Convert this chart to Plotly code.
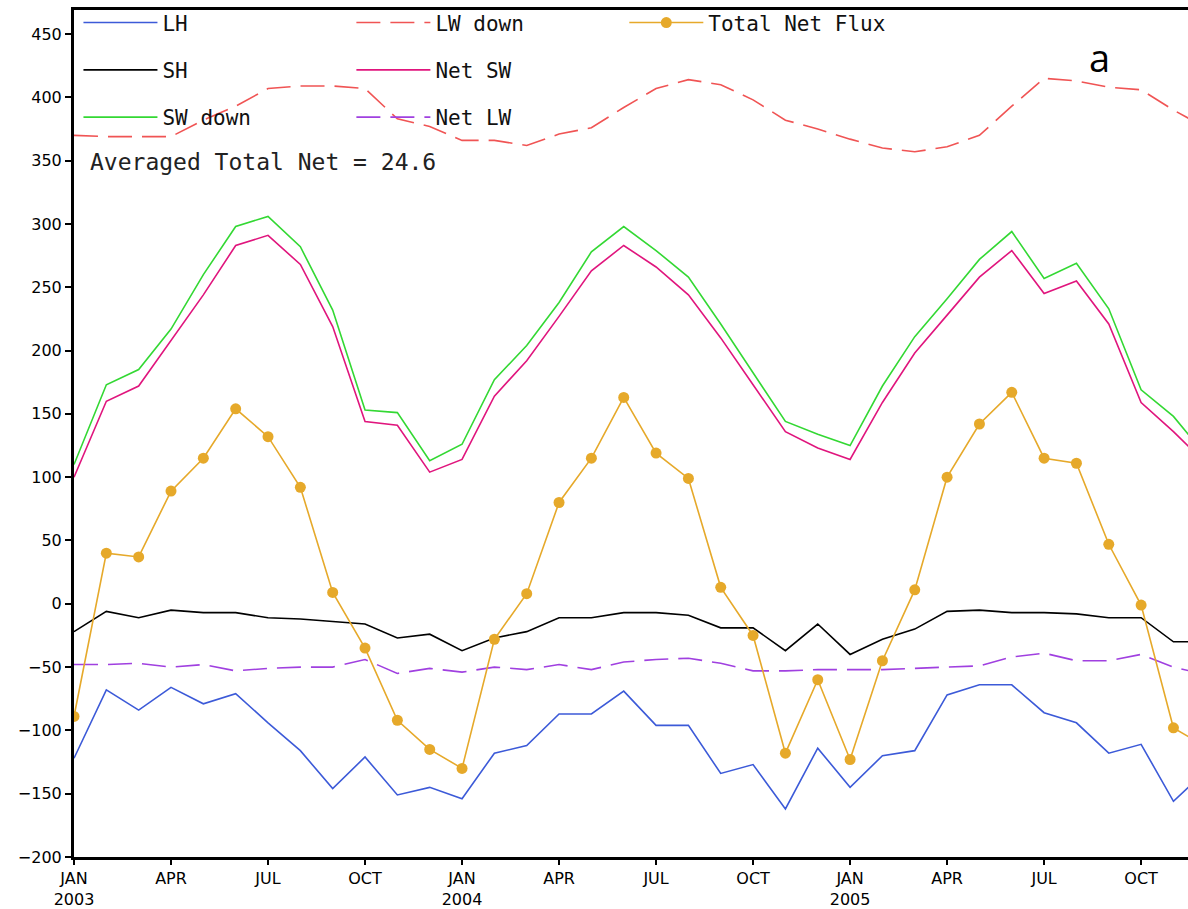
import plotly.graph_objects as go

# month index 0 = JAN 2003 ... 35 = DEC 2005
months = list(range(36))
tick_vals = [0, 3, 6, 9, 12, 15, 18, 21, 24, 27, 30, 33]
tick_text = ["JAN<br>2003", "APR", "JUL", "OCT", "JAN<br>2004", "APR", "JUL", "OCT",
             "JAN<br>2005", "APR", "JUL", "OCT"]

lh = [-122, -68, -84, -66, -79, -71, -94, -116, -146, -121, -151, -145,
      -154, -118, -112, -87, -87, -69, -96, -96, -134, -127, -162, -114,
      -145, -120, -116, -72, -64, -64, -86, -94, -118, -111, -156, -132]
sh = [-22, -6, -11, -5, -7, -7, -11, -12, -14, -16, -27, -24,
      -37, -27, -22, -11, -11, -7, -7, -9, -19, -19, -37, -16,
      -40, -28, -20, -6, -5, -7, -7, -8, -11, -11, -30, -30]
sw_down = [110, 173, 185, 217, 260, 298, 306, 282, 232, 153, 151, 113,
           126, 177, 204, 238, 278, 298, 279, 258, 221, 183, 144, 134,
           125, 172, 211, 241, 272, 294, 257, 269, 233, 169, 148, 117]
lw_down = [370, 369, 369, 369, 382, 393, 407, 409, 409, 407, 383, 377,
           366, 366, 362, 371, 376, 392, 407, 414, 410, 398, 382, 375,
           367, 360, 357, 361, 370, 393, 415, 413, 408, 406, 390, 376]
net_sw = [100, 160, 172, 208, 244, 283, 291, 268, 219, 144, 141, 104,
          114, 164, 192, 227, 263, 283, 266, 244, 210, 173, 136, 123,
          114, 159, 198, 228, 258, 279, 245, 255, 221, 159, 136, 111]
net_lw = [-48, -48, -47, -50, -48, -53, -51, -50, -50, -44, -55, -51,
          -54, -50, -52, -48, -52, -46, -44, -43, -47, -53, -53, -52,
          -52, -52, -51, -50, -49, -42, -39, -45, -45, -40, -50, -56]
total_net = [-89, 40, 37, 89, 115, 154, 132, 92, 9, -35, -92, -115,
             -130, -28, 8, 80, 115, 163, 119, 99, 13, -25, -118, -60,
             -123, -45, 11, 100, 142, 167, 115, 111, 47, -1, -98, -113]

avg_text = "Averaged Total Net = 24.6"

fig = go.Figure()

def add_line(y, name, color, dash="solid", legend="legend", group=None):
    fig.add_trace(go.Scatter(
        x=months, y=y, mode="lines", name=name,
        line=dict(color=color, width=1.6, dash=dash),
        legend=legend, legendgroup=group or name))

add_line(lh, "LH", "#3c5ad8", legend="legend")
add_line(sh, "SH", "#000000", legend="legend")
add_line(sw_down, "SW down", "#33d833", legend="legend")
add_line(lw_down, "LW down", "#f05454", dash="24px,10px", legend="legend2")
add_line(net_sw, "Net SW", "#e0157d", legend="legend2")
add_line(net_lw, "Net LW", "#a040e0", dash="24px,10px", legend="legend2")
fig.add_trace(go.Scatter(
    x=months, y=total_net, mode="lines+markers", name="Total Net Flux",
    line=dict(color="#e6a92a", width=1.6),
    marker=dict(color="#e6a92a", size=11, symbol="circle"),
    legend="legend3", legendgroup="tnf"))

leg_font = dict(family="DejaVu Sans Mono", size=21, color="#111111")
leg_common = dict(font=leg_font, bgcolor="rgba(0,0,0,0)", borderwidth=0,
                  yanchor="top", y=1.009, xanchor="left", itemwidth=74,
                  tracegroupgap=17, orientation="v")

fig.update_layout(
    width=1188, height=909,
    margin=dict(l=74, r=0, t=10, b=45),
    paper_bgcolor="white", plot_bgcolor="white",
    showlegend=True,
    legend=dict(x=0.004, **leg_common),
    legend2=dict(x=0.249, **leg_common),
    legend3=dict(x=0.494, **leg_common),
    xaxis=dict(range=[0, 34.45], tickmode="array", tickvals=tick_vals, ticktext=tick_text,
               showline=True, linewidth=3, linecolor="black", mirror=True,
               ticks="outside", ticklen=5, tickwidth=1.5, tickcolor="black",
               showgrid=False, zeroline=False,
               tickfont=dict(family="DejaVu Sans", size=16, color="black")),
    yaxis=dict(range=[-200, 469], tick0=0, dtick=50,
               showline=True, linewidth=3, linecolor="black", mirror=False,
               ticks="outside", ticklen=6, tickwidth=1.5, tickcolor="black",
               showgrid=False, zeroline=False,
               tickfont=dict(family="DejaVu Sans", size=16, color="black")),
    annotations=[
        dict(text=avg_text, xref="paper", yref="paper", x=0.0126, y=0.821,
             xanchor="left", yanchor="middle", showarrow=False,
             font=dict(family="DejaVu Sans Mono", size=23, color="#222222")),
        dict(text="a", xref="paper", yref="paper", x=0.921, y=0.944,
             xanchor="center", yanchor="middle", showarrow=False,
             font=dict(family="Open Sans", size=38, color="black")),
    ],
)

fig.write_html("out.html")
